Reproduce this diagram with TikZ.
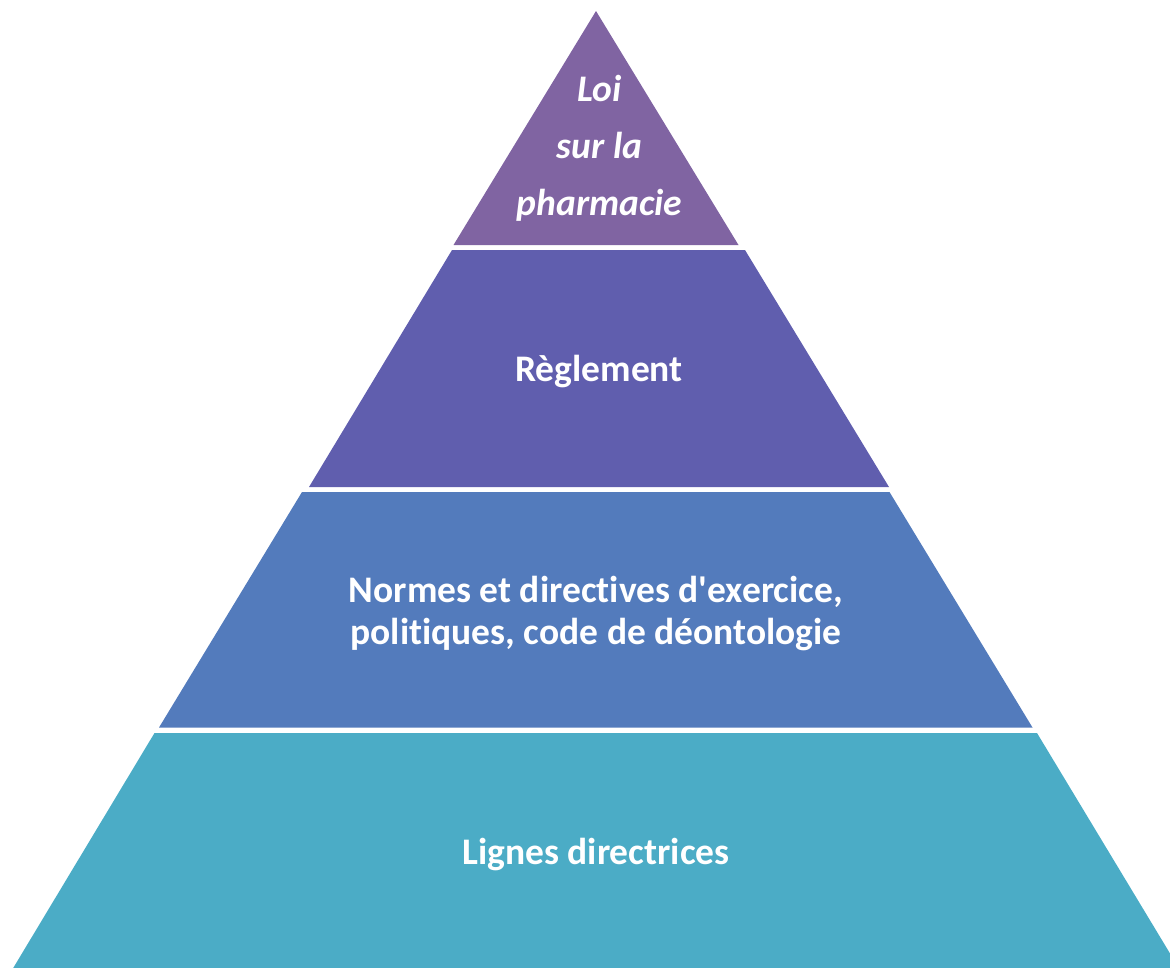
\documentclass[tikz,border=0pt]{standalone}
\usepackage{fontspec}
\newfontfamily\calib[Ligatures=NoCommon]{Carlito}
\definecolor{lay1}{HTML}{8064A2}
\definecolor{lay2}{HTML}{605EAE}
\definecolor{lay3}{HTML}{537BBC}
\definecolor{lay4}{HTML}{4BACC6}
\tikzset{
  lbl/.style={text=white, font=\calib\fontsize{37.5}{42}\selectfont\bfseries, align=center, inner sep=0pt, anchor=base},
  toplbl/.style={lbl, font=\calib\fontsize{37.5}{56.7}\selectfont\bfseries\itshape}
}
\begin{document}
\begin{tikzpicture}[x=1pt,y=-1pt]
\useasboundingbox (0,0) rectangle (1170,967);
\clip (0,0) rectangle (1170,967);
\fill[lay1] (596,11) -- (738.5,245) -- (453.5,245) -- cycle;
\fill[lay2] (452,250) -- (745,250) -- (889,487) -- (309,487) -- cycle;
\fill[lay3] (302,492) -- (889.5,492) -- (1032.5,727.5) -- (159,727.5) -- cycle;
\fill[lay4] (154.5,733) -- (1037,733) -- (1180,970) -- (12,970) -- cycle;
\node[toplbl] (loi) at (599.5,215) {Loi\\sur la\\pharmacie};
\node[lbl] (reglement) at (599,381) {Règlement};
\node[lbl] (normes) at (596,644.5) {Normes et directives d'exercice,\\politiques, code de déontologie};
\node[lbl] (lignes) at (596,864) {Lignes directrices};
\end{tikzpicture}
\end{document}
